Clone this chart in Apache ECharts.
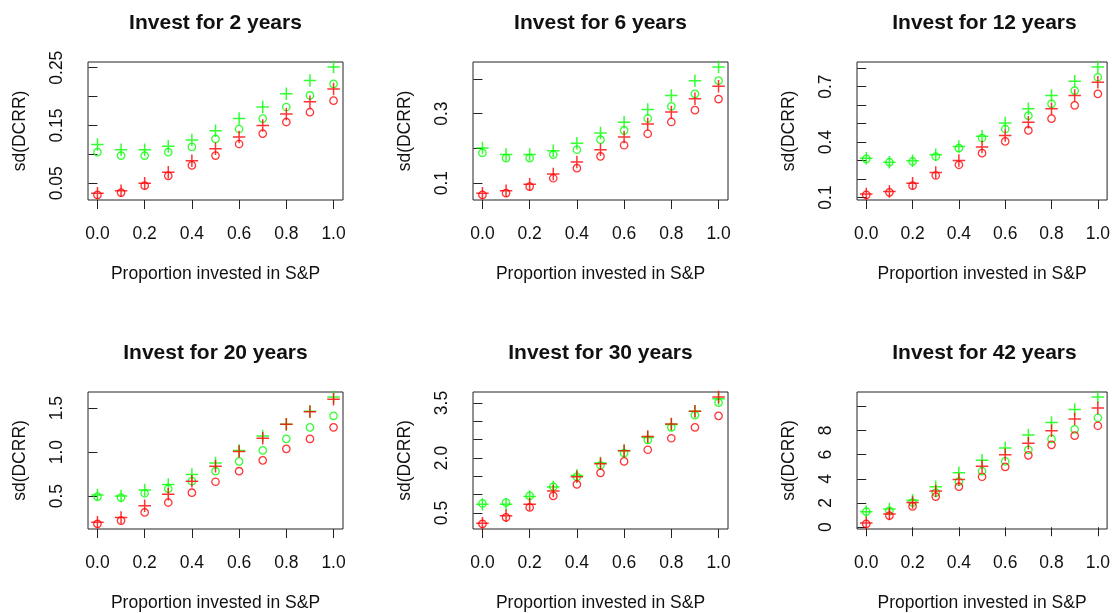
<!DOCTYPE html>
<html>
<head>
<meta charset="utf-8">
<script src="https://cdn.jsdelivr.net/npm/echarts@6/dist/echarts.min.js"></script>
<style>
  html, body { margin: 0; padding: 0; background: #ffffff; }
  #chart { width: 1113px; height: 613px; }
</style>
</head>
<body>
<div id="chart"></div>
<script>
// Proportion of the portfolio invested in the S&P
const proportion = [0.0, 0.1, 0.2, 0.3, 0.4, 0.5, 0.6, 0.7, 0.8, 0.9, 1.0];
const horizons = [2, 6, 12, 20, 30, 42];

// sd(DCRR) for each horizon: green / red, circles (o) and pluses (+)
const green_o_2  = [0.104, 0.098, 0.098, 0.104, 0.113, 0.127, 0.144, 0.162, 0.182, 0.202, 0.222];
const green_p_2  = [0.117, 0.108, 0.108, 0.114, 0.125, 0.141, 0.162, 0.182, 0.205, 0.228, 0.251];
const red_o_2    = [0.030, 0.034, 0.046, 0.063, 0.081, 0.098, 0.118, 0.136, 0.156, 0.173, 0.193];
const red_p_2    = [0.033, 0.037, 0.050, 0.069, 0.089, 0.110, 0.130, 0.150, 0.170, 0.191, 0.213];

const green_o_6  = [0.187, 0.172, 0.172, 0.182, 0.196, 0.225, 0.252, 0.286, 0.321, 0.357, 0.395];
const green_p_6  = [0.201, 0.182, 0.182, 0.193, 0.215, 0.244, 0.275, 0.312, 0.352, 0.395, 0.434];
const red_o_6    = [0.066, 0.071, 0.090, 0.114, 0.143, 0.177, 0.209, 0.242, 0.276, 0.310, 0.342];
const red_p_6    = [0.071, 0.078, 0.097, 0.126, 0.161, 0.196, 0.233, 0.270, 0.305, 0.343, 0.379];

const green_o_12 = [0.309, 0.291, 0.295, 0.322, 0.367, 0.422, 0.471, 0.543, 0.607, 0.679, 0.751];
const green_p_12 = [0.313, 0.291, 0.299, 0.331, 0.376, 0.431, 0.503, 0.581, 0.652, 0.730, 0.806];
const red_o_12   = [0.114, 0.128, 0.164, 0.219, 0.277, 0.340, 0.404, 0.463, 0.527, 0.599, 0.661];
const red_p_12   = [0.119, 0.132, 0.177, 0.235, 0.300, 0.373, 0.436, 0.507, 0.581, 0.652, 0.724];

const green_o_20 = [0.494, 0.483, 0.532, 0.584, 0.670, 0.783, 0.895, 1.019, 1.150, 1.281, 1.412];
const green_p_20 = [0.513, 0.502, 0.569, 0.633, 0.745, 0.876, 1.019, 1.184, 1.315, 1.464, 1.625];
const red_o_20   = [0.184, 0.221, 0.315, 0.427, 0.539, 0.663, 0.783, 0.906, 1.037, 1.150, 1.281];
const red_p_20   = [0.202, 0.258, 0.390, 0.521, 0.670, 0.839, 1.007, 1.157, 1.315, 1.457, 1.599];

const green_o_30 = [0.760, 0.787, 0.967, 1.218, 1.488, 1.802, 2.135, 2.494, 2.836, 3.168, 3.509];
const green_p_30 = [0.742, 0.742, 0.949, 1.209, 1.524, 1.865, 2.198, 2.557, 2.916, 3.276, 3.617];
const red_o_30   = [0.203, 0.383, 0.652, 0.967, 1.281, 1.596, 1.910, 2.225, 2.539, 2.836, 3.150];
const red_p_30   = [0.221, 0.428, 0.742, 1.101, 1.488, 1.847, 2.198, 2.584, 2.925, 3.276, 3.662];

const green_o_42 = [1.28, 1.36, 2.04, 2.86, 3.76, 4.63, 5.45, 6.40, 7.30, 8.09, 9.05];
const green_p_42 = [1.28, 1.50, 2.23, 3.35, 4.50, 5.53, 6.54, 7.63, 8.66, 9.73, 10.76];
const red_o_42   = [0.27, 0.95, 1.72, 2.53, 3.35, 4.17, 4.99, 5.94, 6.81, 7.57, 8.39];
const red_p_42   = [0.35, 1.09, 2.04, 3.00, 3.95, 5.04, 5.99, 6.95, 7.98, 8.94, 9.86];

// Axis ticks and the tick labels that are printed
const xTickLabels = ['0.0', '0.2', '0.4', '0.6', '0.8', '1.0'];
const yTicks_2  = [0.05, 0.10, 0.15, 0.20, 0.25];
const yTicks_6  = [0.1, 0.2, 0.3, 0.4];
const yTicks_12 = [0.1, 0.2, 0.3, 0.4, 0.5, 0.6, 0.7, 0.8];
const yTicks_20 = [0.5, 1.0, 1.5];
const yTicks_30 = [0.5, 1.0, 1.5, 2.0, 2.5, 3.0, 3.5];
const yTicks_42 = [0, 2, 4, 6, 8, 10];
const yLabels_2  = ['0.05', '0.15', '0.25'];
const yLabels_6  = ['0.1', '0.3'];
const yLabels_12 = ['0.1', '0.4', '0.7'];
const yLabels_20 = ['0.5', '1.0', '1.5'];
const yLabels_30 = ['0.5', '2.0', '3.5'];
const yLabels_42 = ['0', '2', '4', '6', '8'];

const panels = [
  { go: green_o_2,  gp: green_p_2,  ro: red_o_2,  rp: red_p_2,  ticks: yTicks_2,  labels: yLabels_2 },
  { go: green_o_6,  gp: green_p_6,  ro: red_o_6,  rp: red_p_6,  ticks: yTicks_6,  labels: yLabels_6 },
  { go: green_o_12, gp: green_p_12, ro: red_o_12, rp: red_p_12, ticks: yTicks_12, labels: yLabels_12 },
  { go: green_o_20, gp: green_p_20, ro: red_o_20, rp: red_p_20, ticks: yTicks_20, labels: yLabels_20 },
  { go: green_o_30, gp: green_p_30, ro: red_o_30, rp: red_p_30, ticks: yTicks_30, labels: yLabels_30 },
  { go: green_o_42, gp: green_p_42, ro: red_o_42, rp: red_p_42, ticks: yTicks_42, labels: yLabels_42 }
];

const FONT = '"Liberation Sans", Arial, Helvetica, sans-serif';
const INK = '#111111';
const RED = '#ff0000';
const GREEN = '#00ff00';
const PLUS = 'path://M44,0L56,0L56,44L100,44L100,56L56,56L56,100L44,100L44,56L0,56L0,44L44,44Z';

// panel boxes (plot regions) in a 2 x 3 layout
const colLeft = [88, 473, 857];
const rowTop = [62, 392];
const boxW = 255, boxH = 138;

const grids = [], xAxes = [], yAxes = [], series = [], titles = [];

panels.forEach((p, i) => {
  const col = i % 3, row = Math.floor(i / 3);
  const all = p.go.concat(p.gp, p.ro, p.rp);
  const lo = Math.min.apply(null, all), hi = Math.max.apply(null, all);
  const pad = (hi - lo) * 0.04;

  grids.push({
    left: colLeft[col], top: rowTop[row], width: boxW, height: boxH,
    show: true, borderColor: '#222222', borderWidth: 1, backgroundColor: 'transparent'
  });

  titles.push({
    text: 'Invest for ' + horizons[i] + ' years',
    left: colLeft[col] + boxW / 2, top: rowTop[row] - 49,
    textAlign: 'center', padding: 0,
    textStyle: { fontFamily: FONT, fontSize: 21, fontWeight: 'bold', color: INK }
  });

  xAxes.push({
    type: 'value', gridIndex: i, min: -0.04, max: 1.04,
    axisLine: { show: false }, splitLine: { show: false },
    axisTick: { show: true, length: 9, customValues: xTickLabels.map(Number),
                lineStyle: { color: '#222222', width: 1 } },
    axisLabel: { customValues: xTickLabels.map(Number), margin: 25,
                 formatter: v => v.toFixed(1),
                 fontFamily: FONT, fontSize: 17.5, color: INK },
    name: 'Proportion invested in S&P', nameLocation: 'middle', nameGap: 65,
    nameTextStyle: { fontFamily: FONT, fontSize: 17.5, color: INK }
  });

  yAxes.push({
    type: 'value', gridIndex: i, min: lo - pad, max: hi + pad,
    axisLine: { show: false }, splitLine: { show: false },
    axisTick: { show: true, length: 9, customValues: p.ticks,
                lineStyle: { color: '#222222', width: 1 } },
    axisLabel: { customValues: p.labels.map(Number), rotate: 90, margin: 22,
                 formatter: v => {
                   const m = p.labels.find(s => Math.abs(Number(s) - v) < 1e-9);
                   return m === undefined ? '' : m;
                 },
                 fontFamily: FONT, fontSize: 17.5, color: INK },
    name: 'sd(DCRR)', nameLocation: 'middle', nameGap: 59, nameRotate: 90,
    nameTextStyle: { fontFamily: FONT, fontSize: 17.5, color: INK }
  });

  const pts = arr => arr.map((v, k) => [proportion[k], v]);
  const circle = (arr, c) => ({
    type: 'scatter', xAxisIndex: i, yAxisIndex: i, data: pts(arr),
    symbol: 'circle', symbolSize: 7.4, silent: true,
    itemStyle: { color: 'transparent', borderColor: c, borderWidth: 1.3 }
  });
  const plus = (arr, c) => ({
    type: 'scatter', xAxisIndex: i, yAxisIndex: i, data: pts(arr),
    symbol: PLUS, symbolSize: 12.5, silent: true,
    itemStyle: { color: c }
  });
  series.push(circle(p.go, GREEN), plus(p.gp, GREEN), circle(p.ro, RED), plus(p.rp, RED));
});

const chart = echarts.init(document.getElementById('chart'), null, { renderer: 'canvas' });
chart.setOption({
  animation: false,
  backgroundColor: '#ffffff',
  title: titles,
  grid: grids,
  xAxis: xAxes,
  yAxis: yAxes,
  series: series
});
</script>
</body>
</html>
